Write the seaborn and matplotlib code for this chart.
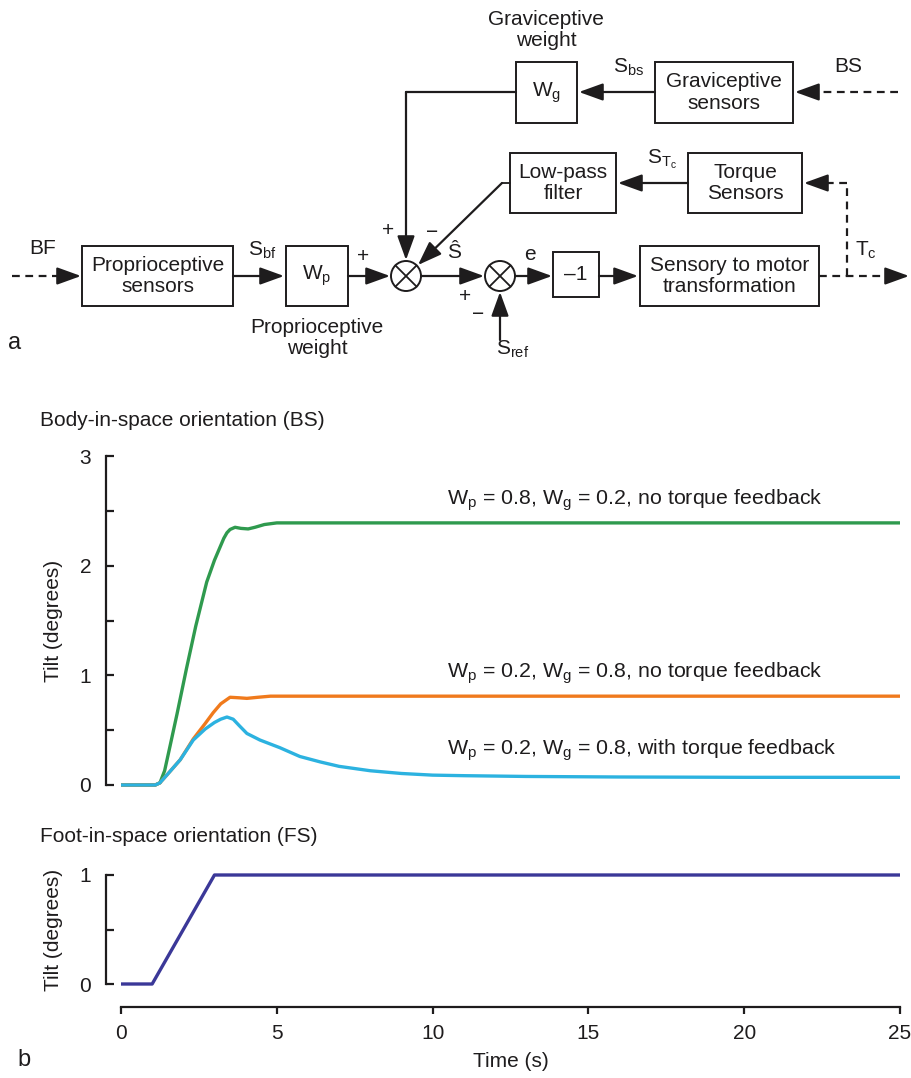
import pandas as pd
import seaborn as sns
import matplotlib.pyplot as plt
from matplotlib.patches import Rectangle, Circle
from matplotlib.ticker import MultipleLocator, FixedLocator

W, H = 911, 1078

# --- data (time in s, tilt in degrees) ---
t_green = [0, 1.1, 1.25, 1.4, 1.57, 1.8, 2.1, 2.4, 2.75, 3.0, 3.18, 3.3, 3.4, 3.5,
           3.66, 3.85, 4.08, 4.3, 4.6, 5.0, 6.0, 25]
tilt_green = [0, 0, 0.02, 0.13, 0.35, 0.65, 1.06, 1.45, 1.85, 2.05, 2.17, 2.25, 2.30,
              2.33, 2.35, 2.34, 2.335, 2.35, 2.375, 2.39, 2.39, 2.39]

t_orange = [0, 1.1, 1.25, 1.5, 1.9, 2.32, 2.7, 2.96, 3.2, 3.5, 3.8, 4.04, 4.4, 4.8, 6.0, 25]
tilt_orange = [0, 0, 0.02, 0.1, 0.23, 0.42, 0.56, 0.66, 0.74, 0.80, 0.795, 0.79, 0.80,
               0.81, 0.81, 0.81]

t_cyan = [0, 1.1, 1.25, 1.5, 1.9, 2.32, 2.7, 3.0, 3.2, 3.4, 3.6, 3.8, 4.04, 4.46, 5.1,
          5.74, 6.4, 7.0, 8.0, 9.0, 10.0, 11.0, 13.0, 16.0, 20.0, 25]
tilt_cyan = [0, 0, 0.02, 0.1, 0.23, 0.41, 0.51, 0.57, 0.60, 0.62, 0.60, 0.54, 0.47, 0.41,
             0.34, 0.26, 0.21, 0.17, 0.13, 0.105, 0.09, 0.085, 0.078, 0.073, 0.07, 0.07]

t_foot = [0, 1, 3, 25]
tilt_foot = [0, 0, 1, 1]

conditions = ['Wp0.8_Wg0.2_noTF', 'Wp0.2_Wg0.8_noTF', 'Wp0.2_Wg0.8_TF']
cond_labels = [r'W$_\mathrm{p}$ = 0.8, W$_\mathrm{g}$ = 0.2, no torque feedback',
               r'W$_\mathrm{p}$ = 0.2, W$_\mathrm{g}$ = 0.8, no torque feedback',
               r'W$_\mathrm{p}$ = 0.2, W$_\mathrm{g}$ = 0.8, with torque feedback']
cond_colors = ['#2f9a4e', '#f07a1c', '#2cb2e0']
label_pos = [(10.45, 2.60), (10.45, 1.02), (10.45, 0.32)]
foot_color = '#3b3898'

body_ticks = [0, 1, 2, 3]
foot_ticks = [0, 1]
time_ticks = [0, 5, 10, 15, 20, 25]

sns.set_theme(style='ticks')
plt.rcParams['font.family'] = ['Liberation Sans', 'DejaVu Sans']
plt.rcParams['mathtext.fontset'] = 'custom'
plt.rcParams['mathtext.rm'] = 'Liberation Sans'
plt.rcParams['mathtext.it'] = 'Liberation Sans:italic'
plt.rcParams['mathtext.bf'] = 'Liberation Sans:bold'

INK = '#1e1c1d'
FS = 15

fig = plt.figure(figsize=(W / 100, H / 100), dpi=100)


def px_axes(x0, y0, x1, y1):
    return fig.add_axes([x0 / W, 1 - y1 / H, (x1 - x0) / W, (y1 - y0) / H])


# ---------------- panel a: block diagram (pixel coordinates) ----------------
ad = fig.add_axes([0, 0, 1, 1])
ad.set_xlim(0, W)
ad.set_ylim(H, 0)
ad.axis('off')

ARW = dict(arrowstyle='-|>,head_length=1.05,head_width=0.38', mutation_scale=14,
           lw=1.6, color=INK, shrinkA=0, shrinkB=0)


def box(x0, y0, x1, y1, text):
    ad.add_patch(Rectangle((x0, y0), x1 - x0, y1 - y0, fill=False, lw=1.4, ec=INK))
    ad.text((x0 + x1) / 2, (y0 + y1) / 2, text, ha='center', va='center',
            fontsize=FS, color=INK, linespacing=1.15)


def arrow(x0, y0, x1, y1, dashed=False):
    if dashed:
        L = ((x1 - x0) ** 2 + (y1 - y0) ** 2) ** 0.5
        ux, uy = (x1 - x0) / L, (y1 - y0) / L
        ad.plot([x0, x1 - 12 * ux], [y0, y1 - 12 * uy], ls=(0, (3.5, 2.5)), lw=1.6, color=INK)
        ad.annotate('', xy=(x1, y1), xytext=(x1 - 22 * ux, y1 - 22 * uy), arrowprops=ARW)
    else:
        ad.annotate('', xy=(x1, y1), xytext=(x0, y0), arrowprops=ARW)


def junction(cx, cy, r=15):
    ad.add_patch(Circle((cx, cy), r, fill=False, lw=1.4, ec=INK))
    d = r * 0.707
    ad.plot([cx - d, cx + d], [cy - d, cy + d], color=INK, lw=1.3)
    ad.plot([cx - d, cx + d], [cy + d, cy - d], color=INK, lw=1.3)


def lbl(x, y, s, size=FS, **kw):
    ad.text(x, y, s, ha='center', va='center', fontsize=size, color=INK, **kw)


box(82, 246, 233, 306, 'Proprioceptive\nsensors')
box(286, 246, 348, 306, r'W$_\mathrm{p}$')
box(516, 62, 577, 123, r'W$_\mathrm{g}$')
box(655, 62, 793, 123, 'Graviceptive\nsensors')
box(510, 153, 616, 213, 'Low-pass\nfilter')
box(688, 153, 802, 213, 'Torque\nSensors')
box(553, 252, 599, 297, '\u20131')
box(640, 246, 819, 306, 'Sensory to motor\ntransformation')
junction(406, 276)
junction(500, 276)

arrow(12, 276, 81, 276, dashed=True)
arrow(233, 276, 284, 276)
arrow(348, 276, 390, 276)
ad.plot([406, 516], [92, 92], color=INK, lw=1.6)
arrow(406, 92, 406, 260)
arrow(655, 92, 579, 92)
arrow(898, 92, 795, 92, dashed=True)
ad.plot([510, 502], [183, 183], color=INK, lw=1.3)
arrow(502, 183, 418, 265)
arrow(688, 183, 618, 183)
arrow(421, 276, 484, 276)
arrow(515, 276, 552, 276)
arrow(599, 276, 638, 276)
ad.plot([847, 847], [276, 183], ls=(0, (3.5, 2.5)), lw=1.6, color=INK)
arrow(847, 183, 804, 183, dashed=True)
arrow(819, 276, 909, 276, dashed=True)
arrow(500, 340, 500, 292)

lbl(43, 249, 'BF')
lbl(262, 250, r'S$_\mathrm{bf}$')
lbl(363, 256, '+')
lbl(388, 231, '+')
lbl(432, 232, '\u2212')
lbl(454, 253, '\u015c')
lbl(465, 297, '+')
lbl(478, 315, '\u2212')
lbl(513, 349, r'S$_\mathrm{ref}$')
lbl(530, 255, 'e')
lbl(866, 250, r'T$_\mathrm{c}$')
lbl(662, 159, r'S$_{\mathrm{T}_\mathrm{c}}$')
lbl(629, 67, r'S$_\mathrm{bs}$')
lbl(848, 67, 'BS')
lbl(546, 30, 'Graviceptive\nweight', linespacing=1.15)
lbl(317, 338, 'Proprioceptive\nweight', linespacing=1.15)
lbl(15, 343, 'a', size=FS + 2)

# ---------------- panel b: time courses ----------------
df_body = pd.concat([
    pd.DataFrame({'time': t_green, 'tilt': tilt_green, 'cond': conditions[0]}),
    pd.DataFrame({'time': t_orange, 'tilt': tilt_orange, 'cond': conditions[1]}),
    pd.DataFrame({'time': t_cyan, 'tilt': tilt_cyan, 'cond': conditions[2]}),
], ignore_index=True)
df_foot = pd.DataFrame({'time': t_foot, 'tilt': tilt_foot})

ax1 = px_axes(121, 456, 900, 785)
sns.lineplot(data=df_body, x='time', y='tilt', hue='cond', hue_order=conditions,
             palette=cond_colors, sort=False, estimator=None, legend=False,
             linewidth=2.4, ax=ax1)
ax1.set_xlim(0, 25)
ax1.set_ylim(0, 3)
for (x, y), s in zip(label_pos, cond_labels):
    ax1.text(x, y, s, fontsize=15.4, color=INK, ha='left', va='center')
ax1.yaxis.set_major_locator(FixedLocator(body_ticks))
ax1.yaxis.set_minor_locator(MultipleLocator(0.5))
ax1.set_xticks([])
ax1.set_xlabel('')
ax1.set_ylabel('Tilt (degrees)', fontsize=FS, color=INK, labelpad=12)
sns.despine(ax=ax1, bottom=True, offset=dict(left=10.5))

ax2 = px_axes(121, 875, 900, 984)
sns.lineplot(data=df_foot, x='time', y='tilt', color=foot_color, linewidth=2.4,
             sort=False, estimator=None, ax=ax2)
ax2.set_xlim(0, 25)
ax2.set_ylim(0, 1)
ax2.yaxis.set_major_locator(FixedLocator(foot_ticks))
ax2.yaxis.set_minor_locator(MultipleLocator(0.5))
ax2.xaxis.set_major_locator(FixedLocator(time_ticks))
ax2.set_xlabel('Time (s)', fontsize=FS, color=INK, labelpad=7)
ax2.set_ylabel('Tilt (degrees)', fontsize=FS, color=INK, labelpad=12)
sns.despine(ax=ax2, offset=dict(left=10.5, bottom=16.5))

for ax in (ax1, ax2):
    ax.set_facecolor('none')
    for l in ax.lines:
        l.set_clip_on(False)
        l.set_solid_capstyle('butt')
    for sp in ax.spines.values():
        sp.set_linewidth(1.6)
        sp.set_color(INK)
    ax.tick_params(axis='y', which='both', direction='in', width=1.6, color=INK,
                   labelsize=FS, labelcolor=INK, pad=11)
    ax.tick_params(axis='y', which='major', length=6)
    ax.tick_params(axis='y', which='minor', length=6)
ax2.tick_params(axis='x', direction='out', length=5, width=1.6, color=INK,
                labelsize=FS, labelcolor=INK, pad=7)

fig.text(40 / W, 1 - 420 / H, 'Body-in-space orientation (BS)', fontsize=FS,
         color=INK, ha='left', va='center')
fig.text(40 / W, 1 - 837 / H, 'Foot-in-space orientation (FS)', fontsize=FS,
         color=INK, ha='left', va='center')
fig.text(24 / W, 1 - 1060 / H, 'b', fontsize=FS + 2, color=INK, ha='center', va='center')

fig.savefig('out.png', dpi=100)
